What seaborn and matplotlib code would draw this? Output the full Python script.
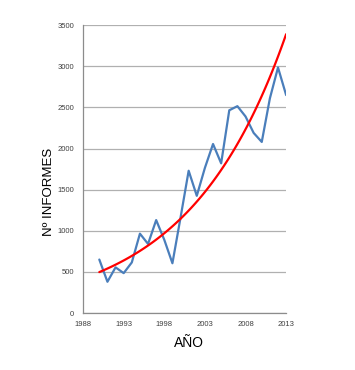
import numpy as np
import pandas as pd
import seaborn as sns
import matplotlib
matplotlib.use("Agg")
import matplotlib.pyplot as plt

# datos
anios = [1990, 1991, 1992, 1993, 1994, 1995, 1996, 1997, 1998, 1999, 2000, 2001,
         2002, 2003, 2004, 2005, 2006, 2007, 2008, 2009, 2010, 2011, 2012, 2013]
informes = [650, 380, 555, 485, 615, 965, 840, 1130, 890, 605, 1160, 1730,
            1425, 1765, 2055, 1820, 2465, 2515, 2390, 2190, 2080, 2610, 2985, 2650]
x_ticks = [1988, 1993, 1998, 2003, 2008, 2013]
y_ticks = [0, 500, 1000, 1500, 2000, 2500, 3000, 3500]

df = pd.DataFrame({"anio": anios, "informes": informes})

# linea de tendencia exponencial (como Excel: ajuste lineal sobre ln y)
b, ln_a = np.polyfit(df["anio"] - anios[0], np.log(df["informes"]), 1)
tend = pd.DataFrame({"anio": np.linspace(anios[0], anios[-1], 100)})
tend["informes"] = np.exp(ln_a + b * (tend["anio"] - anios[0]))

sns.set_style("white")
plt.rcParams["font.family"] = ["Liberation Sans", "DejaVu Sans"]
fig = plt.figure(figsize=(3.55, 3.7), dpi=100)
ax = fig.add_axes([0.234, 0.154, 0.572, 0.778])

sns.lineplot(data=df, x="anio", y="informes", color="#4a7ebb", linewidth=1.6, ax=ax)
sns.lineplot(data=tend, x="anio", y="informes", color="#ff0000", linewidth=1.6, ax=ax)

ax.set_xlim(1988, 2013)
ax.set_ylim(0, 3500)
ax.set_xticks(x_ticks)
ax.set_yticks(y_ticks)
ax.yaxis.grid(True, color="#b0b0b0", linewidth=0.9)
ax.set_axisbelow(True)
for s in ["top", "right"]:
    ax.spines[s].set_visible(False)
for s in ["left", "bottom"]:
    ax.spines[s].set_color("#8c8c8c")
    ax.spines[s].set_linewidth(0.9)
ax.tick_params(axis="both", labelsize=5.5, length=3.5, width=0.7, color="#8c8c8c",
               direction="out", pad=2, labelcolor="#404040")
ax.tick_params(axis="y", pad=3)

ax.set_xlabel("AÑO", fontsize=10, color="black")
ax.set_ylabel("Nº INFORMES", fontsize=9.5, color="black")
ax.xaxis.set_label_coords(0.52, -0.08)
ax.yaxis.set_label_coords(-0.14, 0.42)

fig.savefig("out.png", dpi=100)
